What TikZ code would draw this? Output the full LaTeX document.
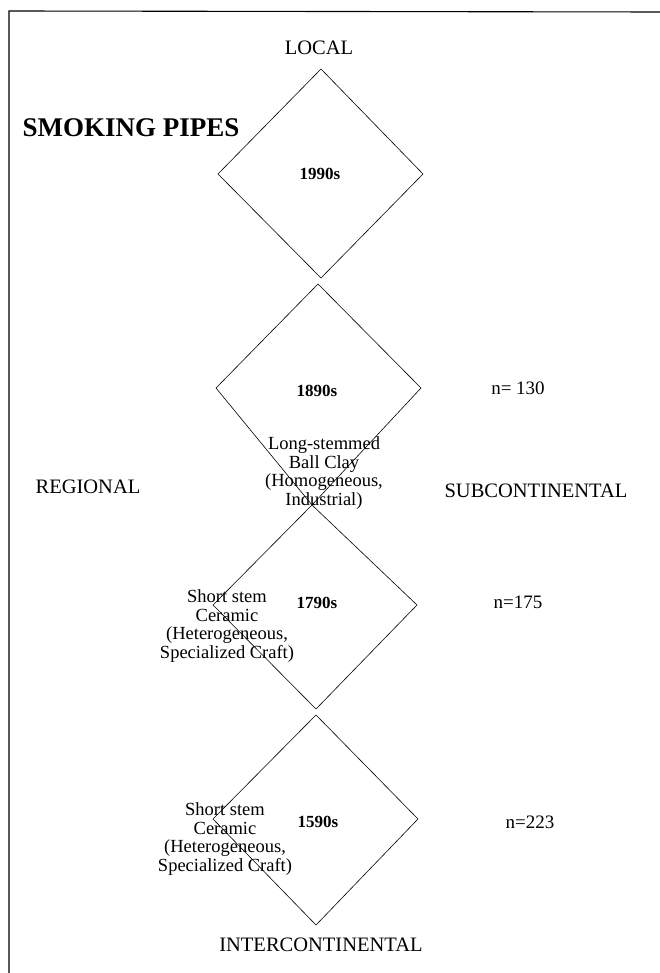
\documentclass[tikz,border=0pt]{standalone}
\usepackage{fontspec}
\setmainfont{Liberation Serif}
\begin{document}
\begin{tikzpicture}[x=1pt,y=-1pt,
  lbl/.style={inner sep=0pt, font=\fontsize{20.5}{22}\selectfont},
  nlbl/.style={inner sep=0pt, font=\fontsize{19}{21}\selectfont},
  yr/.style={inner sep=0pt, font=\fontsize{17}{19}\selectfont\bfseries},
  desc/.style={inner sep=0pt, align=center, font=\fontsize{18.5}{18.5}\selectfont},
  dia/.style={draw=black, line width=0.6pt},
  frame/.style={draw=black, line width=1.1pt}]
\useasboundingbox (0,0) rectangle (660,973);
% frame (left and top edges)
\draw[frame] (9,973) -- (9,11) -- (660,12);
% diamonds
\draw[dia] (321,69) -- (423,174) -- (321,278) -- (218,174) -- cycle;
\draw[dia] (318,284) -- (421,388) -- (312,505) -- (216,388) -- cycle;
\draw[dia] (312,505) -- (417,605) -- (316,709) -- (213,605) -- cycle;
\draw[dia] (316,715) -- (418,819) -- (316,925) -- (213,819) -- cycle;
% titles and axis labels
\node[inner sep=0pt, font=\fontsize{27}{30}\selectfont\bfseries] (title) at (131,128) {SMOKING PIPES};
\node[lbl] (local) at (319,48) {LOCAL};
\node[lbl] (regional) at (88,487) {REGIONAL};
\node[lbl] (subcont) at (536,491) {SUBCONTINENTAL};
\node[lbl] (intercont) at (321,945) {INTERCONTINENTAL};
% years
\node[yr] (y1990) at (320,174) {1990s};
\node[yr] (y1890) at (317,391) {1890s};
\node[yr] (y1790) at (317,603) {1790s};
\node[yr] (y1590) at (318,822) {1590s};
% sample sizes
\node[nlbl] (n130) at (518,388) {n= 130};
\node[nlbl] (n175) at (518,602) {n=175};
\node[nlbl] (n223) at (530,822) {n=223};
% descriptions
\node[desc] (d1890) at (324,473) {Long-stemmed\\Ball Clay\\(Homogeneous,\\Industrial)};
\node[desc] (d1790) at (227,626) {Short stem\\Ceramic\\(Heterogeneous,\\Specialized Craft)};
\node[desc] (d1590) at (225,839) {Short stem\\Ceramic\\(Heterogeneous,\\Specialized Craft)};
\end{tikzpicture}
\end{document}
